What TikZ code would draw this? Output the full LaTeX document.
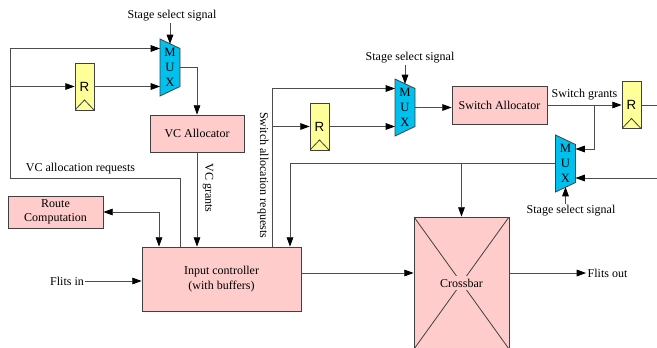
\documentclass[tikz,border=0pt]{standalone}
\usepackage{fontspec}
\setmainfont{Liberation Serif}
\setsansfont{Liberation Sans}
\usepackage{xcolor}
\usepackage{tikz}
\usetikzlibrary{positioning, arrows.meta}

\definecolor{blockpink}{HTML}{FFCCCC}
\definecolor{muxcyan}{HTML}{00C0EE}
\definecolor{regyellow}{HTML}{FFFF99}

% multiplexer: trapezoid body, text node and pin coordinates
\newcommand{\muxnode}[2]{%
  \begin{scope}[shift={(#2)}]
    \filldraw[muxshape] (-10,-28.5) -- (10,-19) -- (10,19) -- (-10,28.5) -- cycle;
    \coordinate (#1-a) at (-10,-19);
    \coordinate (#1-b) at (-10,19);
    \coordinate (#1-c) at (10,-14.5);
    \coordinate (#1-d) at (10,14.5);
    \coordinate (#1-top) at (0,-23.5);
    \coordinate (#1-bot) at (0,23.5);
  \end{scope}
  \node[muxtext] (#1) at (#2) {M\\U\\X};}

\begin{document}
\begin{tikzpicture}[
    x=0.75pt, y=-0.75pt,
    font=\fontsize{9}{11}\selectfont,
    wire/.style={draw=black!70, line width=0.6pt},
    arr/.style={wire, -{Triangle[length=7pt, width=5pt, black]}},
    dblarr/.style={wire, {Triangle[length=7pt, width=5pt, black]}-{Triangle[length=7pt, width=5pt, black]}},
    block/.style={draw=black!75, fill=blockpink, line width=0.6pt, align=center, inner sep=1pt},
    reg/.style={draw=black!75, fill=regyellow, line width=0.6pt, minimum width=14.25pt, minimum height=35.25pt, inner sep=0pt,
        font=\sffamily\fontsize{10}{12}\selectfont,
        path picture={\draw[black!75, line width=0.6pt] (path picture bounding box.south west) -- ([yshift=7.5pt]path picture bounding box.south) -- (path picture bounding box.south east);}},
    muxshape/.style={draw=black!75, fill=muxcyan, line width=0.6pt},
    muxtext/.style={minimum width=15pt, minimum height=42.75pt, inner sep=0pt, align=center, font=\fontsize{9.5}{11.5}\selectfont},
    lbl/.style={inner sep=1pt},
    vlbl/.style={lbl, rotate=-90}
]
    \useasboundingbox (0,0) rectangle (657,347);

    % blocks
    \node[block, minimum width=70.5pt, minimum height=27.75pt] (vca) at (197,133.5) {VC Allocator};
    \node[block, minimum width=71.25pt, minimum height=28.5pt] (sa) at (499.5,105) {Switch Allocator};
    \node[block, minimum width=71.25pt, minimum height=24pt] (route) at (55.5,212) {Route\\Computation};
    \node[block, minimum width=119.25pt, minimum height=48pt] (ic) at (221.5,279) {Input controller\\(with buffers)};
    \node[block, minimum width=71.25pt, minimum height=99pt,
        path picture={\draw[black!75, line width=0.6pt] (path picture bounding box.north west) -- (path picture bounding box.south east)
            (path picture bounding box.north east) -- (path picture bounding box.south west);}] (xbar) at (461.5,283) {};
    \node[fill=blockpink, inner sep=2pt] (xbarlbl) at (xbar) {Crossbar};

    % registers
    \node[reg] (r1) at (84.5,86.5) {R};
    \node[reg] (r2) at (319.5,126.5) {R};
    \node[reg] (r3) at (631.5,105) {R};

    % multiplexers
    \muxnode{mux1}{170,67.5}
    \muxnode{mux2}{405,107.5}
    \muxnode{mux3}{565.5,163.5}

    % labels
    \node[lbl] (sel1) at (172,16) {Stage select signal};
    \node[lbl] (sel2) at (410,58) {Stage select signal};
    \node[lbl] (sel3) at (571,211) {Stage select signal};
    \node[lbl] (vcreq) at (80.5,169) {VC allocation requests};
    \node[vlbl] (vcgr) at (208,188) {VC grants};
    \node[vlbl] (swreq) at (263,175) {Switch allocation requests};
    \node[lbl] (swgr) at (584.5,95) {Switch grants};
    \node[lbl] (flitsin) at (67,281) {Flits in};
    \node[lbl] (flitsout) at (607.5,273) {Flits out};

    % corner and tap points
    \coordinate (vcup) at (180,178);
    \coordinate (vcleft) at (10,178);
    \coordinate (vctap) at (10,86.5);
    \coordinate (rtdown) at (159,212);
    \coordinate (swtap) at (272,126.5);
    \coordinate (grtap) at (594,105);
    \coordinate (muxback) at (290,163.5);
    \coordinate (r3out) at (657,105);
    \coordinate (mux3in) at (657,178);

    % vc allocation stage
    \draw[arr] (mux1-top |- sel1.south) -- (mux1-top);
    \draw[arr] (ic.north -| vcup) -- (vcup) -- (vcleft) |- (mux1-a);
    \draw[arr] (vctap) -- (r1);
    \draw[arr] (r1) -- (mux1-b);
    \draw[arr] (mux1.east) -| (vca.north);
    \draw[arr] (vca.south) -- (vca.south |- ic.north);

    % route computation and input
    \draw[dblarr] (route.east) -- (rtdown) -- (rtdown |- ic.north);
    \draw[arr] (flitsin.east) -- (flitsin.east -| ic.west);

    % switch allocation stage
    \draw[arr] (swtap |- ic.north) |- (mux2-a);
    \draw[arr] (swtap) -- (r2);
    \draw[arr] (r2) -- (mux2-b);
    \draw[arr] (mux2-top |- sel2.south) -- (mux2-top);
    \draw[arr] (mux2.east) -- (mux2.east -| sa.west);
    \draw[arr] (sa.east) -- (sa.east -| r3.west);
    \draw[wire] (r3.east) -- (r3out);
    \draw[arr] (grtap) |- (mux3-c);
    \draw[arr] (mux3in) -- (mux3-d);
    \draw[arr] (mux3-bot |- sel3.north) -- (mux3-bot);

    % switch traversal
    \draw[arr] (mux3.west) -| (ic.north -| muxback);
    \draw[arr] (mux3.west -| xbar.north) -- (xbar.north);
    \draw[arr] ([yshift=4.5pt]ic.east) -- ([yshift=4.5pt]ic.east -| xbar.west);
    \draw[arr] ([yshift=7.5pt]xbar.east) -- ([yshift=7.5pt]xbar.east -| flitsout.west);
\end{tikzpicture}
\end{document}
